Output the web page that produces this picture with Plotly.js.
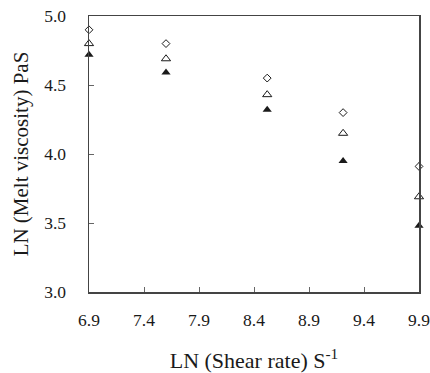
<!DOCTYPE html>
<html>
<head>
<meta charset="utf-8">
<script src="https://cdn.plot.ly/plotly-3.0.1.min.js"></script>
<style>html,body{margin:0;padding:0;background:#fff;}#chart{width:430px;height:373px;}</style>
</head>
<body>
<div id="chart"></div>
<script>
// LN (Shear rate) values
const shearRate = [6.9, 7.6, 8.52, 9.21, 9.9];
// LN (Melt viscosity) series
const seriesDiamond = [4.90, 4.80, 4.55, 4.30, 3.91];
const seriesOpenTri = [4.80, 4.69, 4.43, 4.15, 3.69];
const seriesFilledTri = [4.72, 4.59, 4.32, 3.95, 3.48];
const xTicks = [6.9, 7.4, 7.9, 8.4, 8.9, 9.4, 9.9];
const xTickText = ["6.9", "7.4", "7.9", "8.4", "8.9", "9.4", "9.9"];
const yTicks = [3.0, 3.5, 4.0, 4.5, 5.0];
const yTickText = ["3.0", "3.5", "4.0", "4.5", "5.0"];

const font = "'Liberation Serif', 'DejaVu Serif', serif";
const ink = "#1a1a1a";

const traces = [
  {x: shearRate, y: seriesDiamond, mode: "markers", type: "scatter", cliponaxis: false,
   marker: {symbol: "diamond-open", size: 6, color: ink, line: {width: 1, color: ink}}},
  {x: shearRate, y: seriesOpenTri, mode: "markers", type: "scatter", cliponaxis: false,
   marker: {symbol: "triangle-up-open", size: 8, color: ink, line: {width: 1, color: ink}}},
  {x: shearRate, y: seriesFilledTri, mode: "markers", type: "scatter", cliponaxis: false,
   marker: {symbol: "triangle-up", size: 8, color: ink, line: {width: 0}}}
];

const layout = {
  width: 430, height: 373,
  margin: {l: 89, r: 11, t: 16, b: 81},
  paper_bgcolor: "#fff", plot_bgcolor: "#fff",
  showlegend: false,
  font: {family: font, color: ink},
  xaxis: {
    range: [6.9, 9.9], tickvals: xTicks, ticktext: xTickText,
    ticks: "inside", ticklen: 5, tickwidth: 1, tickcolor: "#666",
    showline: true, linecolor: "#444", linewidth: 1.5, mirror: true,
    showgrid: false, zeroline: false,
    tickfont: {family: font, size: 17.5, color: ink},
    ticklabeloverflow: "allow",
    ticklabelstandoff: 11,
    title: {text: "LN (Shear rate) S<sup>-1</sup>", font: {family: font, size: 22, color: ink}, standoff: 26}
  },
  yaxis: {
    range: [3.0, 5.0], tickvals: yTicks, ticktext: yTickText,
    ticks: "inside", ticklen: 5, tickwidth: 1, tickcolor: "#666",
    showline: true, linecolor: "#444", linewidth: 1.5, mirror: true,
    showgrid: false, zeroline: false,
    tickfont: {family: font, size: 17.5, color: ink},
    ticklabeloverflow: "allow",
    ticklabelstandoff: 18,
    title: {text: "LN (Melt viscosity) PaS", font: {family: font, size: 21, color: ink}, standoff: 10}
  }
};

Plotly.newPlot("chart", traces, layout, {displayModeBar: false, staticPlot: true});
</script>
</body>
</html>
